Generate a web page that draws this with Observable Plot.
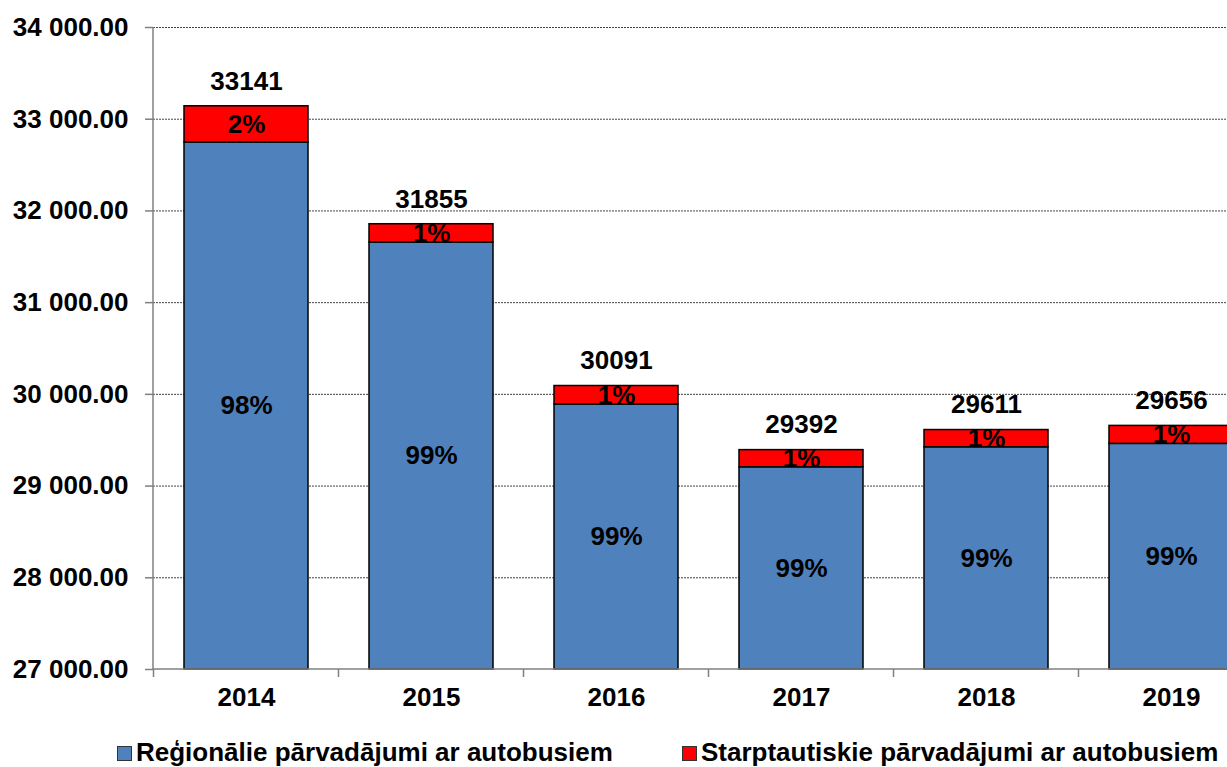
<!DOCTYPE html>
<html>
<head>
<meta charset="utf-8">
<script src="https://cdn.jsdelivr.net/npm/d3@7"></script>
<script src="https://cdn.jsdelivr.net/npm/@observablehq/plot@0.6"></script>
<style>
  html, body { margin: 0; padding: 0; background: #fff; overflow: hidden; }
  #wrap { width: 1263px; position: relative; font-family: "Liberation Sans", Arial, sans-serif; font-weight: bold; }
  #wrap svg { max-width: none !important; display: block; }
  #legend { position: relative; height: 64px; font-size: 26px; line-height: 64px; white-space: nowrap; }
  .item { position: absolute; top: 0; }
  .sw { display: inline-block; width: 13px; height: 13px; border: 1px solid #333; margin-right: 4px; vertical-align: 0px; }
</style>
</head>
<body>
<div id="wrap">
  <div id="chart"></div>
  <div id="legend"></div>
</div>
<script>
const years = ["2014", "2015", "2016", "2017", "2018", "2019"];
const regional = [32746, 31655, 29889, 29205, 29423, 29460];
const international = [395, 200, 202, 187, 188, 196];
const totalLabels = ["33141", "31855", "30091", "29392", "29611", "29656"];
const regionalPct = ["98%", "99%", "99%", "99%", "99%", "99%"];
const internationalPct = ["2%", "1%", "1%", "1%", "1%", "1%"];
const seriesNames = ["Reģionālie pārvadājumi ar autobusiem", "Starptautiskie pārvadājumi ar autobusiem"];
const seriesColors = ["#4F81BD", "#FF0000"];
const yTicks = [27000, 28000, 29000, 30000, 31000, 32000, 33000, 34000];

const yMin = yTicks[0], yMax = yTicks[yTicks.length - 1];

const segments = [];
years.forEach((yr, i) => {
  segments.push({year: yr, series: seriesNames[0], y1: yMin, y2: regional[i], mid: (yMin + regional[i]) / 2, pct: regionalPct[i]});
  const top = regional[i] + international[i];
  segments.push({year: yr, series: seriesNames[1], y1: regional[i], y2: top, mid: (regional[i] + top) / 2, pct: internationalPct[i]});
});
const totals = years.map((yr, i) => ({year: yr, total: regional[i] + international[i], label: totalLabels[i]}));

const fmt = d3.formatLocale({decimal: ".", thousands: " ", grouping: [3]}).format(",.2f");

function frameLines(index, scales, values, dims) {
  const g = d3.create("svg:g");
  const x = scales.x;
  const left = dims.marginLeft, bottom = dims.height - dims.marginBottom, top = dims.marginTop;
  const right = dims.width - dims.marginRight;
  g.append("line").attr("x1", left).attr("x2", left).attr("y1", top).attr("y2", bottom)
    .attr("stroke", "#808080").attr("stroke-width", 1.5);
  g.append("line").attr("x1", left).attr("x2", right).attr("y1", bottom).attr("y2", bottom)
    .attr("stroke", "#808080").attr("stroke-width", 1.5);
  const step = x.step(), bw = x.bandwidth();
  const bounds = years.map(y => x(y) - (step - bw) / 2);
  bounds.push(x(years[years.length - 1]) + bw + (step - bw) / 2);
  bounds.forEach(b => {
    g.append("line").attr("x1", b).attr("x2", b).attr("y1", bottom).attr("y2", bottom + 8)
      .attr("stroke", "#808080").attr("stroke-width", 1.5);
  });
  return g.node();
}

const chart = Plot.plot({
  width: 1263,
  height: 720,
  marginLeft: 153,
  marginRight: 0,
  marginTop: 27,
  marginBottom: 51,
  style: {fontFamily: "'Liberation Sans', Arial, sans-serif", fontSize: "26px", fontWeight: "bold", maxWidth: "none", color: "#000", background: "#fff"},
  x: {domain: years, paddingInner: 0.33, paddingOuter: 0.165, label: null},
  y: {domain: [yMin, yMax], label: null},
  color: {domain: seriesNames, range: seriesColors},
  marks: [
    Plot.ruleY(yTicks.slice(1), {stroke: "#444", strokeWidth: 1, strokeDasharray: "2,1"}),
    Plot.barY(segments, {x: "year", y1: "y1", y2: "y2", fill: "series", stroke: "#000", strokeWidth: 1.5}),
    Plot.axisY({ticks: yTicks, tickFormat: fmt, tickSize: 8, tickPadding: 17, stroke: "#808080", strokeWidth: 1.5, fill: "#000"}),
    Plot.axisX({tickSize: 0, tickPadding: 18, fill: "#000"}),
    frameLines,
    Plot.text(segments, {x: "year", y: "mid", text: "pct", fill: "#000", fontSize: 26, fontWeight: "bold"}),
    Plot.text(totals, {x: "year", y: "total", text: "label", dy: -25, fill: "#000", fontSize: 26, fontWeight: "bold"})
  ]
});
document.getElementById("chart").appendChild(chart);

const legend = document.getElementById("legend");
const legendLeft = [117, 682];
seriesNames.forEach((name, i) => {
  const it = document.createElement("div");
  it.className = "item";
  it.style.left = legendLeft[i] + "px";
  const sw = document.createElement("span");
  sw.className = "sw";
  sw.style.background = seriesColors[i];
  it.appendChild(sw);
  it.appendChild(document.createTextNode(name));
  legend.appendChild(it);
});
</script>
</body>
</html>
